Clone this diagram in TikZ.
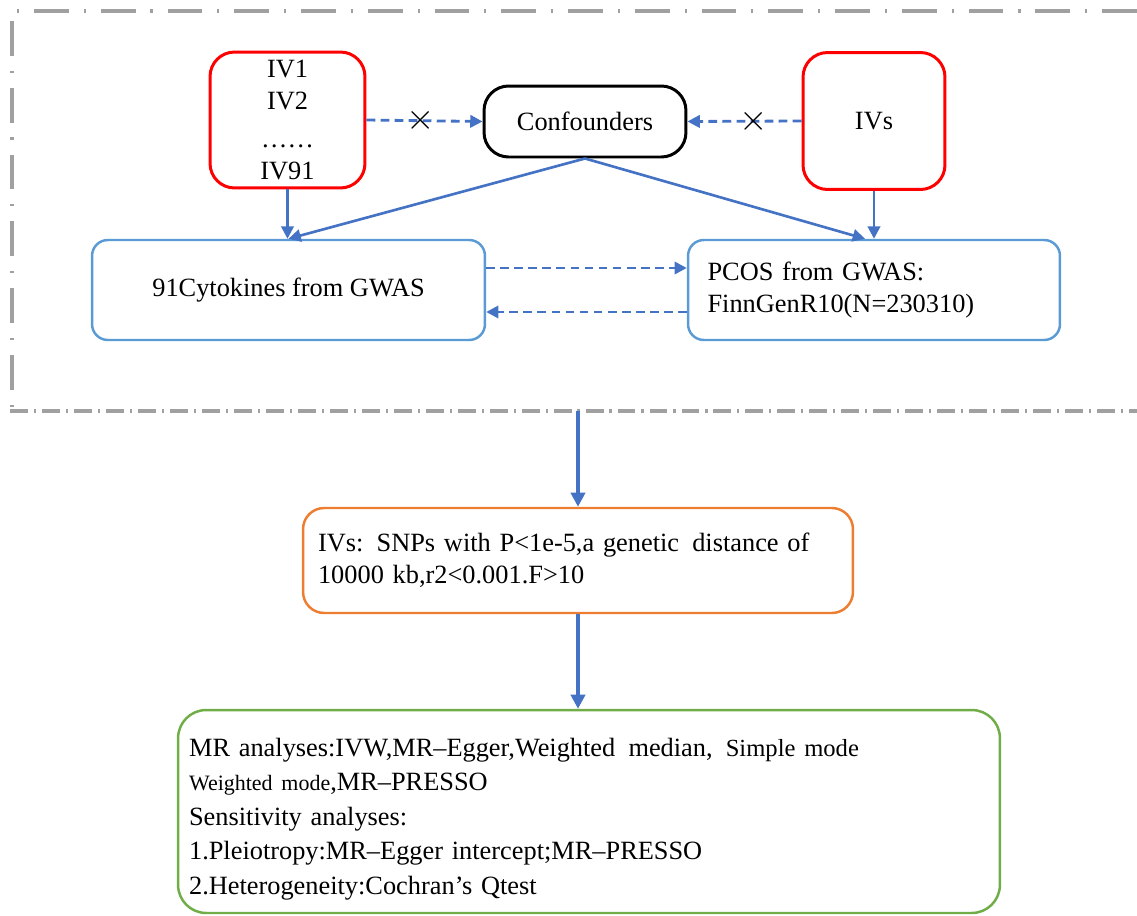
\documentclass[tikz,border=0pt]{standalone}
\usepackage{fontspec}
\setmainfont{Liberation Serif}
\usetikzlibrary{arrows.meta}
\definecolor{ivred}{HTML}{FF0000}
\definecolor{boxblue}{HTML}{5B9BD5}
\definecolor{arrblue}{HTML}{4472C4}
\definecolor{boxorange}{HTML}{ED7D31}
\definecolor{boxgreen}{HTML}{70AD47}
\definecolor{framegray}{HTML}{A0A0A0}
\tikzstyle{ivbox}=[draw=ivred, line width=1.7pt, rounded corners=14pt, align=center, inner sep=0pt]
\tikzstyle{gwasbox}=[draw=boxblue, line width=1.4pt, rounded corners=9pt, inner sep=0pt]
\tikzstyle{notx}=[text=black, font=\fontsize{22}{22}\selectfont, inner sep=0pt]
\tikzstyle{dasharr}=[arrblue, line width=1.6pt, dash pattern=on 5pt off 3pt, -{Triangle[length=7pt,width=7pt]}]
\tikzstyle{solidarr}=[arrblue, line width=1.5pt, -{Triangle[length=7pt,width=7pt]}]
\tikzstyle{bigarr}=[arrblue, line width=2.3pt, -{Triangle[length=8pt,width=8pt]}]

\begin{document}
\begin{tikzpicture}[x=0.02cm, y=-0.02cm, font=\fontsize{15}{18}\selectfont]
	\useasboundingbox (0,0) rectangle (1137,916);
	\draw[framegray, line width=1.8pt, dash pattern=on 19.8pt off 8.5pt on 1.2pt off 8.5pt] (1137,11) -- (12,11) -- (12,411);
	\draw[framegray, line width=1.8pt, dash pattern=on 10.2pt off 3.4pt on 1.2pt off 3.4pt] (10,411) -- (1137,411);
	\node(ivlist)[ivbox, minimum width=3.1cm, minimum height=2.72cm] at (287.5,120) {IV1\\IV2\\[4pt]\dots\dots\\IV91};
	\node(conf)[draw=black, line width=1.7pt, rounded corners=14pt, minimum width=4.04cm, minimum height=1.42cm] at (585,121.5) {Confounders};
	\node(ivs)[ivbox, minimum width=2.84cm, minimum height=2.74cm] at (874,121) {IVs};
	\node(cyto)[gwasbox, minimum width=7.86cm, minimum height=2cm] at (288.5,290) {91Cytokines from GWAS};
	\node(pcos)[gwasbox, minimum width=7.44cm, minimum height=2cm, text width=6.66cm, align=left] at (874,290) {PCOS from GWAS:\\FinnGenR10(N=230310)};
	\node(select)[draw=boxorange, line width=1.4pt, rounded corners=12pt, minimum width=11cm, minimum height=2.1cm, text width=10.4cm, align=left, inner sep=0pt] at (578,560.5) {IVs: SNPs with P<1e-5,a genetic\, distance of\\10000 kb,r2<0.001.F>10};
	\node(mr)[draw=boxgreen, line width=1.4pt, rounded corners=16pt, minimum width=16.44cm, minimum height=4.06cm, text width=16cm, align=left, inner sep=0pt, font=\fontsize{15}{19.6}\selectfont] at (589,811.5) {\rule{0pt}{19pt}MR analyses:IVW,MR--Egger,Weighted\, median,\, {\fontsize{14}{19.6}\selectfont Simple mode}\\{\fontsize{12.5}{19.6}\selectfont Weighted mode},MR--PRESSO\\Sensitivity analyses:\\1.Pleiotropy:MR--Egger intercept;MR--PRESSO\\2.Heterogeneity:Cochran's Qtest};
	\draw[dasharr] (ivlist.east) -- node[notx, pos=0.47](xleft){$\times$} (conf.west);
	\draw[dasharr] (ivs.west) -- node[notx, pos=0.42](xright){$\times$} (conf.east);
	\draw[solidarr] (ivlist.south) -- (ivlist.south |- cyto.north);
	\draw[solidarr] (ivs.south) -- (ivs.south |- pcos.north);
	\draw[solidarr] (conf.south) -- (cyto.north);
	\draw[solidarr] (conf.south) -- ([xshift=-0.18cm]pcos.north);
	\draw[dasharr] ([yshift=0.44cm]cyto.east) -- ([yshift=0.44cm]cyto.east -| pcos.west);
	\draw[dasharr] ([yshift=-0.44cm]pcos.west) -- ([yshift=-0.44cm]pcos.west -| cyto.east);
	\coordinate(frameout) at (578,411);
	\draw[bigarr] (frameout) -- (frameout |- select.north);
	\draw[bigarr] (select.south) -- (select.south |- mr.north);
\end{tikzpicture}
\end{document}
